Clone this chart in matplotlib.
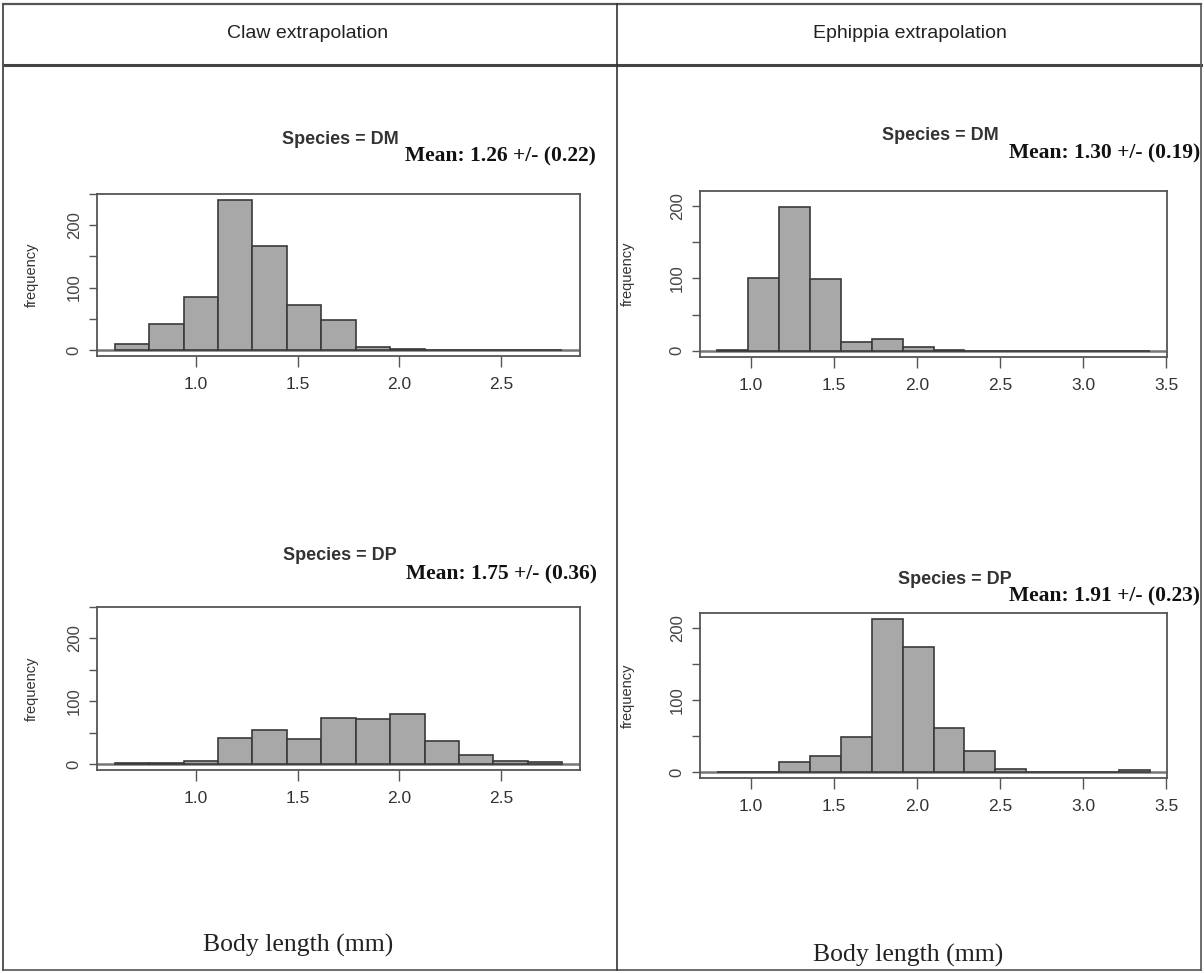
import numpy as np
import matplotlib
matplotlib.use("Agg")
import matplotlib.pyplot as plt

# ---------------- data ----------------
claw_edges = list(np.linspace(0.6, 2.8, 14))
claw_dm_counts = [10, 41, 85, 241, 167, 72, 48, 5, 1, 0, 0, 0, 0]
claw_dp_counts = [1, 2, 5, 42, 54, 39, 74, 72, 79, 37, 15, 5, 3]

eph_edges = list(np.linspace(0.8, 3.4, 15))
eph_dm_counts = [1, 101, 199, 99, 12, 16, 5, 1, 0, 0, 0, 0, 0, 0]
eph_dp_counts = [0, 0, 14, 22, 49, 212, 174, 61, 29, 4, 0, 0, 0, 2]

claw_xticks = [1.0, 1.5, 2.0, 2.5]
eph_xticks = [1.0, 1.5, 2.0, 2.5, 3.0, 3.5]
claw_yticks = [0, 50, 100, 150, 200, 250]
eph_yticks = [0, 50, 100, 150, 200]

column_titles = ["Claw extrapolation", "Ephippia extrapolation"]
species_titles = ["Species = DM", "Species = DP"]
mean_texts = [["Mean: 1.26 +/- (0.22)", "Mean: 1.75 +/- (0.36)"],
              ["Mean: 1.30 +/- (0.19)", "Mean: 1.91 +/- (0.23)"]]
x_label = "Body length (mm)"
y_label = "frequency"

sans = ["Liberation Sans", "DejaVu Sans"]
serif = ["Liberation Serif", "DejaVu Serif"]

W, H = 1204, 973
fig = plt.figure(figsize=(W / 100, H / 100), dpi=100)

bg = fig.add_axes([0, 0, 1, 1])
bg.set_xlim(0, W)
bg.set_ylim(H, 0)
bg.axis("off")

lc = "#333333"
bg.plot([3, 1201], [4, 4], color="#555555", lw=1.6)
bg.plot([3, 1201], [65, 65], color="#444444", lw=2.2)
bg.plot([3, 1201], [970, 970], color="#555555", lw=1.2)
bg.plot([3, 3], [4, 970], color="#555555", lw=1.4)
bg.plot([1201, 1201], [4, 970], color="#555555", lw=1.2)
bg.plot([617, 617], [4, 970], color=lc, lw=1.2)

bg.text(308, 34, column_titles[0], ha="center", va="center", fontsize=14,
        family=sans, color="#222222")
bg.text(910, 34, column_titles[1], ha="center", va="center", fontsize=14,
        family=sans, color="#222222")

bg.text(298, 945, x_label, ha="center", va="center", fontsize=18.5, family=serif,
        color="#222222")
bg.text(908, 955, x_label, ha="center", va="center", fontsize=18.5, family=serif,
        color="#222222")

title_pos = {
    (0, 0): (340, 139, 596, 156),
    (0, 1): (340, 555, 597, 574),
    (1, 0): (940, 136, 1200, 153),
    (1, 1): (955, 579, 1200, 596),
}
for (c, r), (sx, sy, mx, my) in title_pos.items():
    bg.text(sx, sy, species_titles[r], ha="center", va="center", fontsize=13,
            family=sans, weight="bold", color="#333333")
    bg.text(mx, my, mean_texts[c][r], ha="right", va="center", fontsize=15.5,
            family=serif, weight="bold", color="#111111")


def px_rect(x0, y0, x1, y1):
    return [x0 / W, 1 - y1 / H, (x1 - x0) / W, (y1 - y0) / H]


def draw_hist(rect, edges, counts, xticks, yticks, xlim, ylim, ylab_x):
    ax = fig.add_axes(rect)
    e = np.array(edges)
    ax.bar(e[:-1], counts, width=np.diff(e), align="edge", color="#a8a8a8",
           edgecolor="#3a3a3a", linewidth=1.2, zorder=2)
    ax.axhline(0, color="#777777", lw=1.8, zorder=1)
    ax.set_xlim(*xlim)
    ax.set_ylim(*ylim)
    ax.set_xticks(xticks)
    ax.set_xticklabels([f"{t:.1f}" for t in xticks])
    ax.set_yticks(yticks)
    ax.set_yticklabels([str(t) if t % 100 == 0 else "" for t in yticks],
                       rotation=90, va="center")
    for s in ax.spines.values():
        s.set_color("#555555")
        s.set_linewidth(1.3)
    ax.tick_params(axis="x", direction="out", length=8, width=1.0, colors="#555555",
                   labelcolor="#333333", labelsize=12.5, pad=7)
    ax.tick_params(axis="y", direction="out", length=6, width=1.0, colors="#555555",
                   labelcolor="#444444", labelsize=12, pad=5)
    for lbl in ax.get_xticklabels() + ax.get_yticklabels():
        lbl.set_family(sans)
    ax.set_ylabel(y_label, fontsize=10.5, family=sans, color="#333333")
    ax.yaxis.set_label_coords(ylab_x, 0.5)
    return ax


claw_xlim = (0.512, 2.888)
claw_ylim = (-9.6, 249.6)
eph_xlim = (0.696, 3.504)
eph_ylim = (-8.5, 220.5)

draw_hist(px_rect(97, 194, 580, 356), claw_edges, claw_dm_counts, claw_xticks,
          claw_yticks, claw_xlim, claw_ylim, -0.12)
draw_hist(px_rect(97, 607, 580, 770), claw_edges, claw_dp_counts, claw_xticks,
          claw_yticks, claw_xlim, claw_ylim, -0.12)
draw_hist(px_rect(700, 191, 1167, 357), eph_edges, eph_dm_counts, eph_xticks,
          eph_yticks, eph_xlim, eph_ylim, -0.14)
draw_hist(px_rect(700, 613, 1167, 778), eph_edges, eph_dp_counts, eph_xticks,
          eph_yticks, eph_xlim, eph_ylim, -0.14)

fig.savefig("out.png", dpi=100)
